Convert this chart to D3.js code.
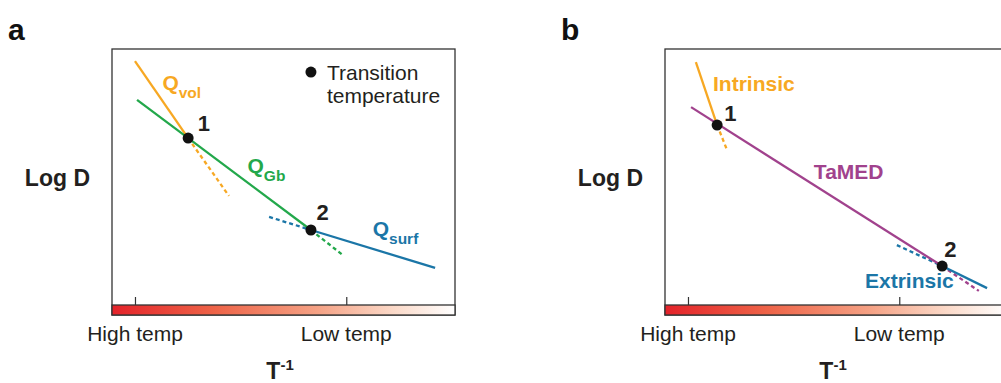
<!DOCTYPE html>
<html>
<head>
<meta charset="utf-8">
<script src="https://cdn.jsdelivr.net/npm/d3@7"></script>
<style>
  body { margin: 0; background: #fff; }
  svg { display: block; font-family: 'Liberation Sans', Arial, sans-serif; }
</style>
</head>
<body>
<div id="graf"></div>
<script>
// --- datos (unidades arbitrarias: x = T^-1, y = log D, ambas 0..100) ---
const ticksX = [6.7, 68.3]
const tickLabels = ['High temp', 'Low temp']

// panel a
const qVol = [[6.7, 95.3], [22.2, 65.2]]
const qVolDash = [[22.2, 65.2], [34.1, 42.6]]
const qGb = [[7.3, 80.1], [58.0, 29.3]]
const qGbDash = [[58.0, 29.3], [67.3, 19.5]]
const qSurf = [[58.0, 29.3], [94.2, 14.5]]
const qSurfDash = [[45.8, 34.4], [58.0, 29.3]]
const transA = [[22.2, 65.2], [58.0, 29.3]]
const legendDot = [58.0, 91.0]

// panel b
const intrinsic = [[9.0, 94.9], [15.2, 70.3]]
const intrinsicDash = [[15.2, 70.3], [18.1, 60.5]]
const tamed = [[7.6, 77.3], [80.8, 15.2]]
const tamedDash = [[80.8, 15.2], [91.5, 5.5]]
const extrinsic = [[80.8, 15.2], [93.9, 6.6]]
const extrinsicDash = [[67.6, 23.4], [80.8, 15.2]]
const transB = [[15.2, 70.3], [80.8, 15.2]]

const colores = {
  orange: '#F7A823',
  green: '#23A84B',
  blue: '#1B76A7',
  purple: '#A1428D',
  text: '#231F20'
}

const anchoTotal = 1001
const altoTotal = 383

const svg = d3.select('#graf')
  .append('svg')
  .attr('width', anchoTotal)
  .attr('height', altoTotal)

const defs = svg.append('defs')
const grad = defs.append('linearGradient').attr('id', 'tempGrad')
grad.append('stop').attr('offset', '0%').attr('stop-color', '#E4232A')
grad.append('stop').attr('offset', '30%').attr('stop-color', '#EE6448')
grad.append('stop').attr('offset', '60%').attr('stop-color', '#F5A285')
grad.append('stop').attr('offset', '82%').attr('stop-color', '#FBD9C8')
grad.append('stop').attr('offset', '100%').attr('stop-color', '#FFFFFF')

const ancho = 343
const alto = 256
const barra = 10

function panel(left, letra, cfg) {
  const top = 49
  const g = svg.append('g').attr('transform', `translate(${left}, ${top})`)

  const x = d3.scaleLinear().domain([0, 100]).range([0, ancho])
  const y = d3.scaleLinear().domain([0, 100]).range([alto, 0])
  const line = d3.line().x(d => x(d[0])).y(d => y(d[1]))

  // marco
  g.append('rect')
    .attr('x', 0).attr('y', 0)
    .attr('width', ancho).attr('height', alto + barra)
    .attr('fill', 'none')
    .attr('stroke', '#333')
    .attr('stroke-width', 1.3)

  // barra de temperatura
  g.append('rect')
    .attr('x', 0).attr('y', alto)
    .attr('width', ancho).attr('height', barra)
    .attr('fill', 'url(#tempGrad)')
    .attr('stroke', '#333')
    .attr('stroke-width', 1.3)

  // eje x con ticks hacia arriba
  const xAxis = g.append('g')
    .attr('transform', `translate(0, ${alto})`)
    .call(d3.axisTop(x).tickValues(ticksX).tickSize(8).tickFormat(''))
  xAxis.select('.domain').remove()
  xAxis.selectAll('line').attr('stroke', '#333').attr('stroke-width', 1.2)

  g.selectAll('.tlabel')
    .data(ticksX)
    .join('text')
    .attr('class', 'tlabel')
    .attr('x', d => x(d))
    .attr('y', 292)
    .attr('text-anchor', 'middle')
    .attr('font-size', 21)
    .attr('fill', colores.text)
    .text((d, i) => tickLabels[i])

  // T^-1
  const tx = g.append('text')
    .attr('x', x(49))
    .attr('y', 330)
    .attr('text-anchor', 'middle')
    .attr('font-weight', 'bold')
    .attr('font-size', 23)
    .attr('fill', colores.text)
  tx.append('tspan').text('T')
  tx.append('tspan').attr('font-size', 15).attr('dy', -9).text('-1')

  // Log D
  g.append('text')
    .attr('x', -22)
    .attr('y', 137)
    .attr('text-anchor', 'end')
    .attr('font-weight', 'bold')
    .attr('font-size', 23)
    .attr('fill', colores.text)
    .text('Log D')

  // letra del panel
  svg.append('text')
    .attr('x', cfg.letraX)
    .attr('y', 40)
    .attr('font-weight', 'bold')
    .attr('font-size', 30)
    .attr('fill', '#111')
    .text(letra)

  // líneas
  cfg.lines.forEach(l => {
    g.append('path')
      .datum(l.data)
      .attr('d', line)
      .attr('fill', 'none')
      .attr('stroke', l.color)
      .attr('stroke-width', 2.3)
      .attr('stroke-dasharray', l.dash ? '4,3' : null)
  })

  // puntos de transición
  g.selectAll('.trans')
    .data(cfg.trans)
    .join('circle')
    .attr('class', 'trans')
    .attr('cx', d => x(d[0]))
    .attr('cy', d => y(d[1]))
    .attr('r', 5.5)
    .attr('fill', '#111')

  // etiquetas
  cfg.labels.forEach(l => {
    const t = g.append('text')
      .attr('x', x(l.x))
      .attr('y', y(l.y))
      .attr('font-weight', 'bold')
      .attr('font-size', l.size || 21)
      .attr('fill', l.color)
    t.append('tspan').text(l.text)
    if (l.sub) t.append('tspan').attr('font-size', 15.5).attr('dy', 8).text(l.sub)
  })

  return { g, x, y }
}

// panel a
const pa = panel(112, 'a', {
  letraX: 8,
  lines: [
    { data: qVolDash, color: colores.orange, dash: true },
    { data: qGbDash, color: colores.green, dash: true },
    { data: qSurfDash, color: colores.blue, dash: true },
    { data: qVol, color: colores.orange },
    { data: qGb, color: colores.green },
    { data: qSurf, color: colores.blue }
  ],
  trans: transA,
  labels: [
    { x: 14.7, y: 84.0, text: 'Q', sub: 'vol', color: colores.orange },
    { x: 25.0, y: 67.8, text: '1', color: colores.text, size: 22 },
    { x: 39.5, y: 51.5, text: 'Q', sub: 'Gb', color: colores.green },
    { x: 59.6, y: 33.2, text: '2', color: colores.text, size: 22 },
    { x: 76.0, y: 26.8, text: 'Q', sub: 'surf', color: colores.blue }
  ]
})

// leyenda
pa.g.append('circle')
  .attr('cx', pa.x(legendDot[0]))
  .attr('cy', pa.y(legendDot[1]))
  .attr('r', 5.5)
  .attr('fill', '#111')
pa.g.append('text')
  .attr('x', pa.x(legendDot[0]) + 16)
  .attr('y', 31)
  .attr('font-size', 21)
  .attr('fill', colores.text)
  .text('Transition')
pa.g.append('text')
  .attr('x', pa.x(legendDot[0]) + 16)
  .attr('y', 54)
  .attr('font-size', 21)
  .attr('fill', colores.text)
  .text('temperature')

// panel b
panel(665, 'b', {
  letraX: 561,
  lines: [
    { data: intrinsicDash, color: colores.orange, dash: true },
    { data: tamedDash, color: colores.purple, dash: true },
    { data: extrinsicDash, color: colores.blue, dash: true },
    { data: intrinsic, color: colores.orange },
    { data: tamed, color: colores.purple },
    { data: extrinsic, color: colores.blue }
  ],
  trans: transB,
  labels: [
    { x: 14.0, y: 83.6, text: 'Intrinsic', color: colores.orange },
    { x: 17.3, y: 71.8, text: '1', color: colores.text, size: 22 },
    { x: 43.4, y: 49.2, text: 'TaMED', color: colores.purple },
    { x: 81.4, y: 18.8, text: '2', color: colores.text, size: 22 },
    { x: 58.3, y: 6.6, text: 'Extrinsic', color: colores.blue }
  ]
})
</script>
</body>
</html>
